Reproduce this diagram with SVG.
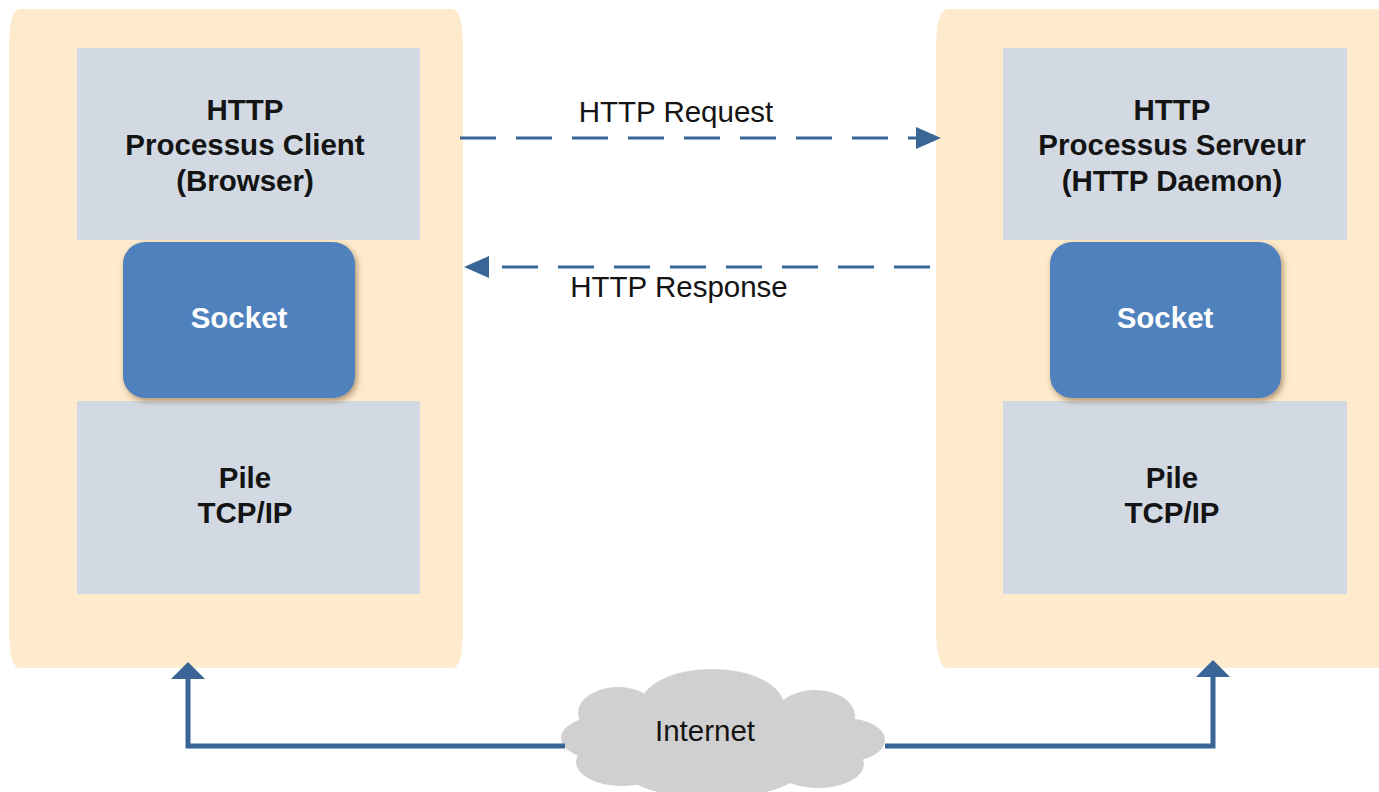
<svg xmlns="http://www.w3.org/2000/svg" width="1379" height="792" viewBox="0 0 1379 792">
<defs>
<style>
.panel{fill:#feebcd}
.box{fill:#d2d9e3}
.sock{fill:#4f81bd;filter:url(#sh)}
.t{font-family:"Liberation Sans",Arial,sans-serif;font-size:29.5px;fill:#141414;text-anchor:middle}
.b{font-weight:bold}
.w{fill:#ffffff}
.dash{stroke:#3a6597;stroke-width:3;fill:none;stroke-dasharray:36 20}
.net{stroke:#3a6597;stroke-width:5;fill:none}
.arr{fill:#3a6597}
.cloud{fill:#d0d0d0}
</style>
<filter id="sh" x="-20%" y="-20%" width="140%" height="140%">
<feDropShadow dx="2" dy="3" stdDeviation="3" flood-color="#6b4a20" flood-opacity="0.55"/>
</filter>
</defs>
<rect width="1379" height="792" fill="#ffffff"/>
<g id="client">
<path class="panel" d="M20,9 H452 Q463,9 463,50 V628 Q463,668 452,668 H20 Q9,668 9,628 V50 Q9,9 20,9 Z"/>
<g id="client-http">
<rect class="box" x="77" y="48" width="343" height="192"/>
<text class="t b" x="245" y="120">HTTP</text>
<text class="t b" x="245" y="155">Processus Client</text>
<text class="t b" x="245" y="191">(Browser)</text>
</g>
<g id="client-pile">
<rect class="box" x="77" y="401" width="343" height="193"/>
<text class="t b" x="245" y="488">Pile</text>
<text class="t b" x="245" y="523">TCP/IP</text>
</g>
<g id="client-socket">
<rect class="sock" x="123" y="242" width="232" height="156" rx="22"/>
<text class="t b w" x="239" y="328">Socket</text>
</g>
</g>
<g id="server">
<path class="panel" d="M948,9 H1390 V668 H948 Q936,668 936,628 V50 Q936,9 948,9 Z"/>
<g id="server-http">
<rect class="box" x="1003" y="48" width="344" height="192"/>
<text class="t b" x="1172" y="120">HTTP</text>
<text class="t b" x="1172" y="155">Processus Serveur</text>
<text class="t b" x="1172" y="191">(HTTP Daemon)</text>
</g>
<g id="server-pile">
<rect class="box" x="1003" y="401" width="344" height="193"/>
<text class="t b" x="1172" y="488">Pile</text>
<text class="t b" x="1172" y="523">TCP/IP</text>
</g>
<g id="server-socket">
<rect class="sock" x="1050" y="242" width="231" height="156" rx="22"/>
<text class="t b w" x="1165" y="328">Socket</text>
</g>
</g>
<g id="internet">
<g class="cloud">
<ellipse cx="603" cy="738" rx="42" ry="22"/>
<ellipse cx="618" cy="713" rx="40" ry="26"/>
<ellipse cx="712" cy="706" rx="72" ry="37"/>
<ellipse cx="815" cy="716" rx="40" ry="26"/>
<ellipse cx="845" cy="740" rx="40" ry="22"/>
<ellipse cx="818" cy="764" rx="46" ry="24"/>
<ellipse cx="622" cy="762" rx="46" ry="24"/>
<ellipse cx="712" cy="768" rx="90" ry="30"/>
<rect x="600" y="710" width="240" height="60"/>
</g>
<text class="t" x="705" y="741">Internet</text>
</g>
<g id="connectors">
<line class="dash" x1="460" y1="138" x2="916" y2="138"/>
<polygon class="arr" points="916,127 941,138 916,149"/>
<text class="t" x="676" y="122">HTTP Request</text>
<line class="dash" x1="930" y1="267" x2="489" y2="267"/>
<polygon class="arr" points="489,256 464,267 489,278"/>
<text class="t" x="679" y="297">HTTP Response</text>
<polyline class="net" points="565,746 188,746 188,676"/>
<polygon class="arr" points="171,679 188,662 205,679"/>
<polyline class="net" points="885,746 1213,746 1213,674"/>
<polygon class="arr" points="1196,677 1213,660 1230,677"/>
</g>
</svg>
